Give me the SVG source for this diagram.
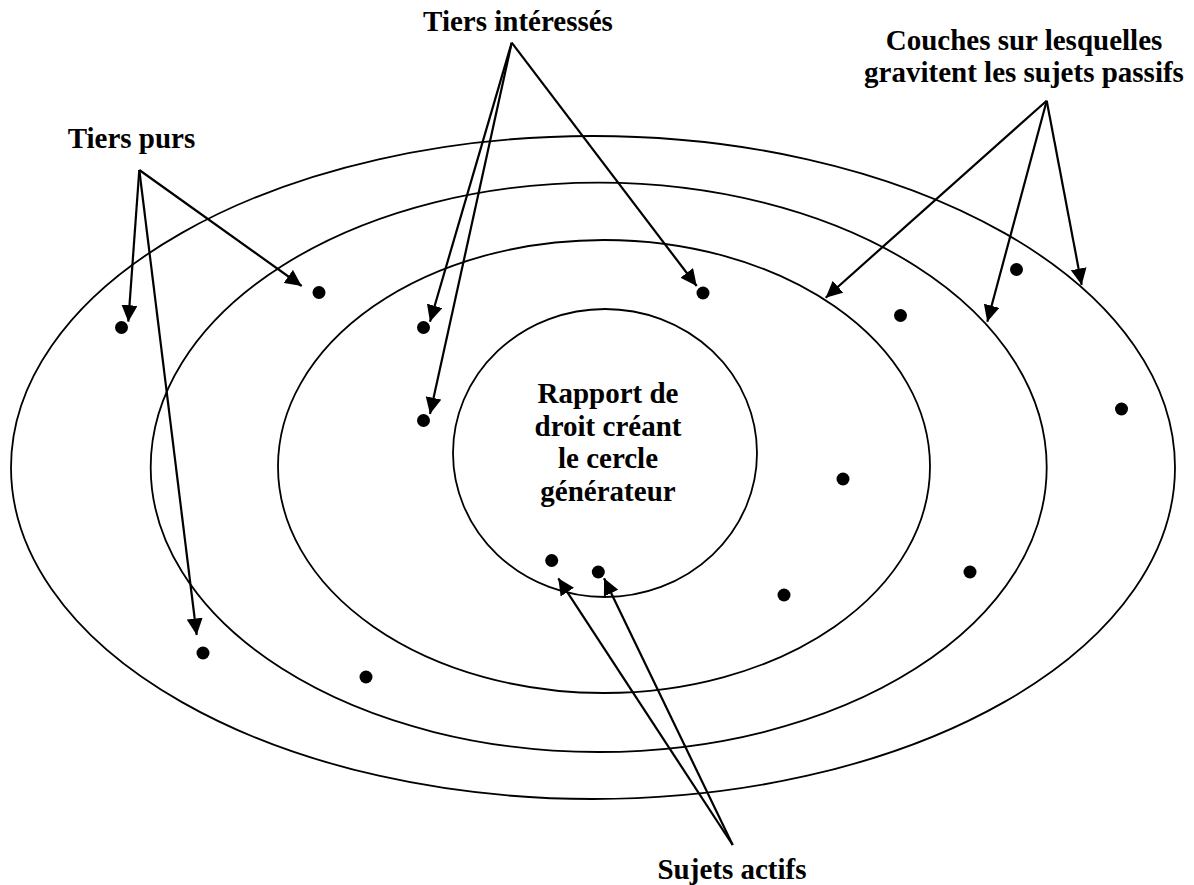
<svg xmlns="http://www.w3.org/2000/svg" width="1194" height="885" viewBox="0 0 1194 885">
<style>
.ring{fill:none;stroke:#000;stroke-width:1.8}
.dot{fill:#000}
.arr{stroke:#000;stroke-width:2.2;fill:none;marker-end:url(#ah)}
.lbl{font-family:"Liberation Serif","Times New Roman",serif;font-weight:bold;font-size:29px;fill:#000;text-anchor:middle}
</style>
<defs>
<marker id="ah" markerUnits="userSpaceOnUse" markerWidth="17" markerHeight="16" refX="16.5" refY="8" orient="auto">
<path d="M0,0 L16.5,8 L0,16 z" fill="#000"/>
</marker>
</defs>
<rect width="1194" height="885" fill="#fff"/>
<g id="rings">
<ellipse id="ring-outer" class="ring" cx="593" cy="467.5" rx="582" ry="331.5"/>
<ellipse id="ring-2" class="ring" cx="598.7" cy="467.3" rx="448" ry="284.7"/>
<ellipse id="ring-3" class="ring" cx="604" cy="466.5" rx="326" ry="226.5"/>
<ellipse id="ring-inner" class="ring" cx="605" cy="453" rx="152" ry="144"/>
</g>
<g id="dots">
<circle class="dot" cx="121.5" cy="327.5" r="6.5"/>
<circle class="dot" cx="319" cy="292.5" r="6.5"/>
<circle class="dot" cx="203" cy="653" r="6.5"/>
<circle class="dot" cx="366" cy="677" r="6.5"/>
<circle class="dot" cx="423.5" cy="327.5" r="6.5"/>
<circle class="dot" cx="423.5" cy="420.5" r="6.5"/>
<circle class="dot" cx="703" cy="293" r="6.5"/>
<circle class="dot" cx="900.5" cy="315.5" r="6.5"/>
<circle class="dot" cx="1016.5" cy="269.5" r="6.5"/>
<circle class="dot" cx="1121.5" cy="409" r="6.5"/>
<circle class="dot" cx="843" cy="479" r="6.5"/>
<circle class="dot" cx="970" cy="572" r="6.5"/>
<circle class="dot" cx="784" cy="595" r="6.5"/>
<circle class="dot" cx="551.7" cy="560.5" r="6.5"/>
<circle class="dot" cx="598.3" cy="572" r="6.5"/>
</g>
<g id="connectors">
<line class="arr" x1="139.3" y1="170" x2="128.3" y2="321.7"/>
<line class="arr" x1="139.3" y1="170" x2="301.7" y2="286"/>
<line class="arr" x1="139.3" y1="170" x2="196.7" y2="635"/>
<line class="arr" x1="511.7" y1="42.7" x2="696.7" y2="286"/>
<line class="arr" x1="511.7" y1="42.7" x2="430" y2="321.7"/>
<line class="arr" x1="511.7" y1="42.7" x2="430" y2="414"/>
<line class="arr" x1="1046.7" y1="100.7" x2="825.7" y2="297.7"/>
<line class="arr" x1="1046.7" y1="100.7" x2="987.3" y2="321.7"/>
<line class="arr" x1="1046.7" y1="100.7" x2="1081.7" y2="285"/>
<line class="arr" x1="732.7" y1="845" x2="558.3" y2="578.3"/>
<line class="arr" x1="732.7" y1="845" x2="604" y2="578.3"/>
</g>
<g id="label-tiers-purs"><text class="lbl" x="131.5" y="148">Tiers purs</text></g>
<g id="label-tiers-interesses"><text class="lbl" x="518" y="31">Tiers intéressés</text></g>
<g id="label-couches"><text class="lbl" x="1024" y="50">Couches sur lesquelles</text><text class="lbl" x="1024" y="82">gravitent les sujets passifs</text></g>
<g id="label-centre"><text class="lbl" x="608" y="403">Rapport de</text><text class="lbl" x="608" y="435.5">droit créant</text><text class="lbl" x="608" y="468">le cercle</text><text class="lbl" x="608" y="500.5">générateur</text></g>
<g id="label-sujets-actifs"><text class="lbl" x="732" y="879">Sujets actifs</text></g>
</svg>
